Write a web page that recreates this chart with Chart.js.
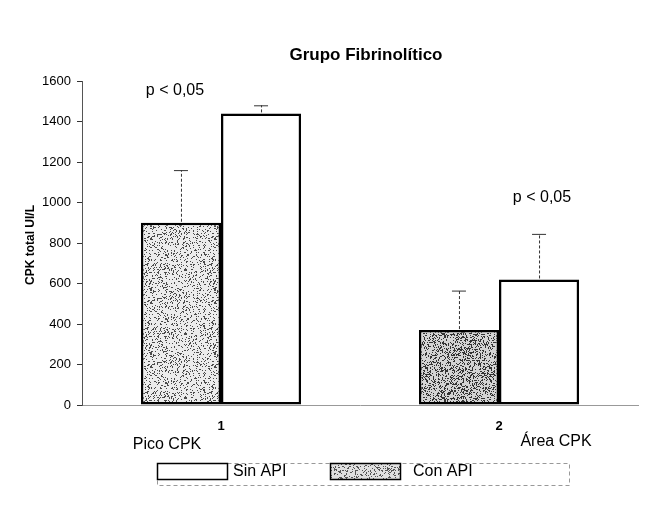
<!DOCTYPE html>
<html><head><meta charset="utf-8">
<script src="https://cdn.jsdelivr.net/npm/chart.js@4"></script>
<style>html,body{margin:0;padding:0;background:#fff}#wrap{width:654px;height:516px}</style>
</head><body><div id="wrap"><canvas id="c" width="654" height="516"></canvas></div>
<script>
const categories = ['1', '2'];
const captions = ['Pico CPK', 'Área CPK'];
const seriesNames = ['Con API', 'Sin API'];
const conAPI = [900, 370];
const conAPIErrTop = [1160, 565];
const sinAPI = [1440, 620];
const sinAPIErrTop = [1480, 845];
const yTickMax = 1600;
const yTickStep = 200;
const pLabels = ['p < 0,05', 'p < 0,05'];
const chartTitle = 'Grupo Fibrinolítico';
const yTitle = 'CPK total UI/L';

const FONT = '"Liberation Sans", Arial, sans-serif';

function hash(x, y, seed) {
  let h = Math.imul(x, 73856093) ^ Math.imul(y, 19349663) ^ seed;
  h = Math.imul(h ^ (h >>> 13), 1274126177);
  h ^= h >>> 16;
  return (h >>> 0) % 1000;
}
function speckle(bg, dot, perMille, seed) {
  const n = 64;
  const c = document.createElement('canvas'); c.width = n; c.height = n;
  const g = c.getContext('2d');
  g.fillStyle = bg; g.fillRect(0, 0, n, n);
  g.fillStyle = dot;
  for (let y = 0; y < n; y++) for (let x = 0; x < n; x++) {
    if (hash(x, y, seed) < perMille) g.fillRect(x, y, 1, 1);
  }
  return g.createPattern(c, 'repeat');
}
const grayLight = speckle('#ececec', '#4a4a4a', 200, 11);
const grayDark = speckle('#d4d4d4', '#333', 320, 29);
const grayLegend = speckle('#e0e0e0', '#555', 230, 47);

const annot = {
  id: 'annot',
  afterDatasetsDraw(chart) {
    const ctx = chart.ctx, ys = chart.scales.y, xs = chart.scales.x;
    const errs = [conAPIErrTop, sinAPIErrTop];
    const vals = [conAPI, sinAPI];
    ctx.save();
    [0, 1].forEach(di => {
      const meta = chart.getDatasetMeta(di);
      meta.data.forEach((bar, j) => {
        const yTop = ys.getPixelForValue(errs[di][j]);
        const yBar = ys.getPixelForValue(vals[di][j]);
        ctx.strokeStyle = '#333'; ctx.lineWidth = 1;
        ctx.setLineDash([3, 2]);
        ctx.beginPath(); ctx.moveTo(bar.x + 0.5, yBar - 1); ctx.lineTo(bar.x + 0.5, yTop); ctx.stroke();
        ctx.setLineDash([]);
        ctx.beginPath(); ctx.moveTo(bar.x - 7, yTop + 0.5); ctx.lineTo(bar.x + 7, yTop + 0.5); ctx.stroke();
      });
    });
    ctx.fillStyle = '#000';
    ctx.font = '16px ' + FONT;
    ctx.textAlign = 'center'; ctx.textBaseline = 'middle';
    const pPos = [{dx: -46, v: 1555}, {dx: 43, v: 1022}];
    pLabels.forEach((t, j) => {
      ctx.fillText(t, xs.getPixelForValue(j) + pPos[j].dx, ys.getPixelForValue(pPos[j].v));
    });
    ctx.restore();
  },
  afterDraw(chart) {
    const ctx = chart.ctx, xs = chart.scales.x;
    ctx.save();
    ctx.fillStyle = '#000';
    ctx.textBaseline = 'middle';
    ctx.font = 'bold 17px ' + FONT; ctx.textAlign = 'center';
    ctx.fillText(chartTitle, 366, 55);
    ctx.save();
    ctx.translate(31, 245); ctx.rotate(-Math.PI / 2);
    ctx.font = 'bold 12px ' + FONT;
    ctx.fillText(yTitle, 0, 0);
    ctx.restore();
    ctx.font = '16px ' + FONT;
    ctx.fillText(captions[0], xs.getPixelForValue(0) - 54, 445);
    ctx.fillText(captions[1], xs.getPixelForValue(1) + 57, 442);
    ctx.strokeStyle = '#999'; ctx.lineWidth = 1; ctx.setLineDash([4, 3]);
    ctx.strokeRect(157.5, 463.5, 412, 22);
    ctx.setLineDash([]);
    const ds = chart.data.datasets;
    const items = [{d: ds[1], x: 157, tx: 233}, {d: ds[0], x: 330, tx: 413}];
    items.forEach((it, k) => {
      ctx.fillStyle = k === 0 ? it.d.backgroundColor[0] : grayLegend;
      ctx.fillRect(it.x, 463, 70, 16);
      ctx.strokeStyle = '#000'; ctx.lineWidth = 1.5;
      ctx.strokeRect(it.x + 0.5, 463.5, 70, 16);
      ctx.fillStyle = '#000'; ctx.textAlign = 'left';
      ctx.font = '16px ' + FONT;
      ctx.fillText(it.d.label, it.tx, 472);
    });
    ctx.restore();
  }
};

new Chart(document.getElementById('c'), {
  type: 'bar',
  data: {
    labels: categories,
    datasets: [
      {label: seriesNames[0], data: conAPI, backgroundColor: [grayLight, grayDark], borderColor: '#000', borderWidth: 2.5, borderSkipped: false},
      {label: seriesNames[1], data: sinAPI, backgroundColor: ['#fff', '#fff'], borderColor: '#000', borderWidth: 2.5, borderSkipped: false}
    ]
  },
  options: {
    responsive: false,
    animation: false,
    devicePixelRatio: 1,
    layout: {padding: {top: 81, right: 16, bottom: 81, left: 0}},
    datasets: {bar: {categoryPercentage: 0.576, barPercentage: 1.0}},
    plugins: {legend: {display: false}, title: {display: false}, tooltip: {enabled: false}},
    scales: {
      x: {
        afterFit(s) { s.height = 30; },
        grid: {display: false, drawTicks: false},
        border: {display: true, color: '#999', dash: [6, 4], width: 1},
        ticks: {font: {family: FONT, size: 13, weight: 'bold'}, color: '#000', padding: 14}
      },
      y: {
        min: 0, max: yTickMax,
        afterFit(s) { s.width = 82; },
        grid: {drawOnChartArea: false, drawTicks: true, tickLength: 5, color: '#333'},
        border: {display: true, color: '#555', dash: [2, 3], width: 1},
        ticks: {stepSize: yTickStep, font: {family: FONT, size: 13}, color: '#000', padding: 6,
                callback: v => String(v)}
      }
    }
  },
  plugins: [annot]
});
</script>
</body></html>
